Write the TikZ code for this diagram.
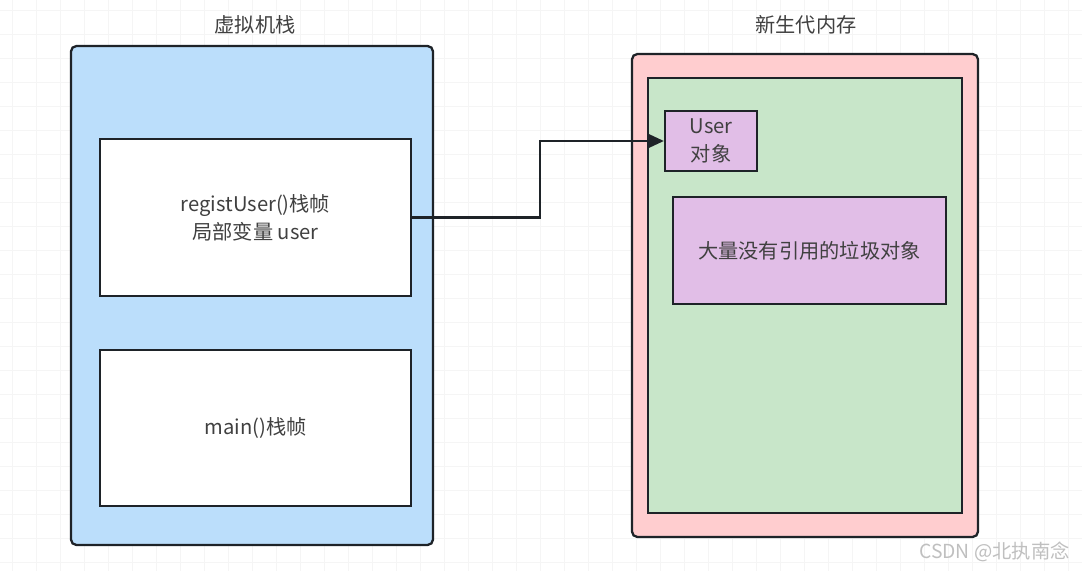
\documentclass[tikz,border=0pt]{standalone}
\usepackage{fontspec}
\setmainfont{Noto Sans CJK SC}
\usetikzlibrary{positioning,arrows.meta}
\definecolor{stackblue}{RGB}{187,222,251}
\definecolor{heappink}{RGB}{255,205,207}
\definecolor{younggreen}{RGB}{200,230,201}
\definecolor{objpurple}{RGB}{225,190,231}
\definecolor{edgedark}{RGB}{30,35,40}

\tikzset{
  box/.style={draw=edgedark, line width=1.3pt, inner sep=0pt, align=center,
    font=\fontsize{11.5}{16}\selectfont, text=black!75},
  title/.style={font=\fontsize{11.5}{14}\selectfont, text=black!75},
  gridline/.style={black!4, line width=0.4pt}
}

\begin{document}
\begin{tikzpicture}[x=0.02cm, y=-0.02cm]
    \useasboundingbox (0,0) rectangle (1082,571);
    \fill[white] (0,0) rectangle (1082,571);
    % faint grid in the back
    \foreach \gx in {12,36,...,1082} \draw[gridline] (\gx,0) -- (\gx,571);
    \foreach \gy in {10,34,...,571} \draw[gridline] (0,\gy) -- (1082,\gy);

    % JVM stack
    \node (stack) [box, fill=stackblue, rounded corners=3pt,
      minimum width=7.24cm, minimum height=9.98cm] at (252,295.5) {};
    \node (stacktitle) [title] at (255,25) {虚拟机栈};
    \node (frameA) [box, fill=white, minimum width=6.22cm, minimum height=3.14cm]
      at (255.5,217.5) {registUser()栈帧\\局部变量 user};
    \node (frameB) [box, fill=white, minimum width=6.22cm, minimum height=3.12cm]
      at (255.5,428) {main()栈帧};

    % young generation
    \node (heap) [box, fill=heappink, rounded corners=3pt,
      minimum width=6.92cm, minimum height=9.66cm] at (805,295.5) {};
    \node (heaptitle) [title] at (806,25) {新生代内存};
    \node (young) [box, fill=younggreen, minimum width=6.28cm, minimum height=8.70cm]
      at (805,295.5) {};
    \node (userobj) [box, fill=objpurple, minimum width=1.84cm, minimum height=1.2cm,
      font=\fontsize{11.5}{15.5}\selectfont] at (711,141) {User\\对象};
    \node (garbage) [box, fill=objpurple, minimum width=5.46cm, minimum height=2.14cm]
      at (809.5,250.5) {大量没有引用的垃圾对象};

    \coordinate (bend) at (540,141);
    \draw[edgedark, line width=1.3pt, -{Triangle[length=9pt,width=8pt]}]
      (frameA.east) -| (bend) -- (userobj.west);

    \node (mark) [anchor=east, text=black!25, font=\fontsize{11}{12}\selectfont]
      at (1076,552) {CSDN @北执南念};
\end{tikzpicture}
\end{document}
